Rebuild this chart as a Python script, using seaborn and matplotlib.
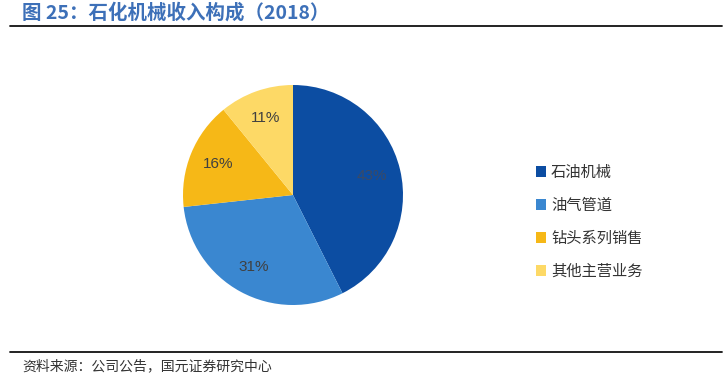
import matplotlib
matplotlib.use("Agg")
import matplotlib.pyplot as plt
import seaborn as sns
from matplotlib.lines import Line2D
from matplotlib.patches import Patch

categories = ["石油机械", "油气管道", "钻头系列销售", "其他主营业务"]
values = [43, 31, 16, 11]
colors = ["#0C4DA2", "#3A87D0", "#F6B817", "#FDD966"]
title = "图 25：石化机械收入构成（2018）"
source = "资料来源：公司公告，国元证券研究中心"

sns.set_theme(style="white")
plt.rcParams["font.family"] = ["Noto Sans CJK SC", "DejaVu Sans"]

W, H = 726, 377
fig = plt.figure(figsize=(W / 100, H / 100), dpi=100)
fig.patch.set_facecolor("white")

value_iter = iter(values)
cx, cy, r = 293, 195, 110
ax = fig.add_axes([(cx - r) / W, 1 - (cy + r) / H, 2 * r / W, 2 * r / H])
wedges, texts, autotexts = ax.pie(
    values, colors=colors, startangle=90, counterclock=False,
    autopct=lambda p: f"{next(value_iter)}%", pctdistance=0.74,
    wedgeprops=dict(linewidth=0),
    textprops=dict(fontsize=11, color="#404040", family=["Liberation Sans", "DejaVu Sans"]),
)
autotexts[0].set_color("#3A4A66")
ax.set_aspect("equal")
ax.set_xlim(-1, 1)
ax.set_ylim(-1, 1)

handles = [Patch(facecolor=c, edgecolor="none") for c in colors]
fig.legend(handles, categories, loc="upper left",
           bbox_to_anchor=(522 / W, 1 - 150 / H), frameon=False,
           handlelength=0.7, handleheight=0.7, handletextpad=0.3,
           labelspacing=1.05, fontsize=11, labelcolor="#333333")

fig.text(22 / W, 1 - 13 / H, title, fontsize=14, fontweight="bold",
         color="#3D70B8", va="center", ha="left")
fig.add_artist(Line2D([10 / W, 722 / W], [1 - 25.5 / H] * 2, color="#111111", lw=1.3))
fig.add_artist(Line2D([10 / W, 722 / W], [1 - 352 / H] * 2, color="#111111", lw=1.3))
fig.text(22 / W, 1 - 366 / H, source, fontsize=10, color="#333333",
         va="center", ha="left")

fig.savefig("out.png", dpi=100, facecolor="white")
